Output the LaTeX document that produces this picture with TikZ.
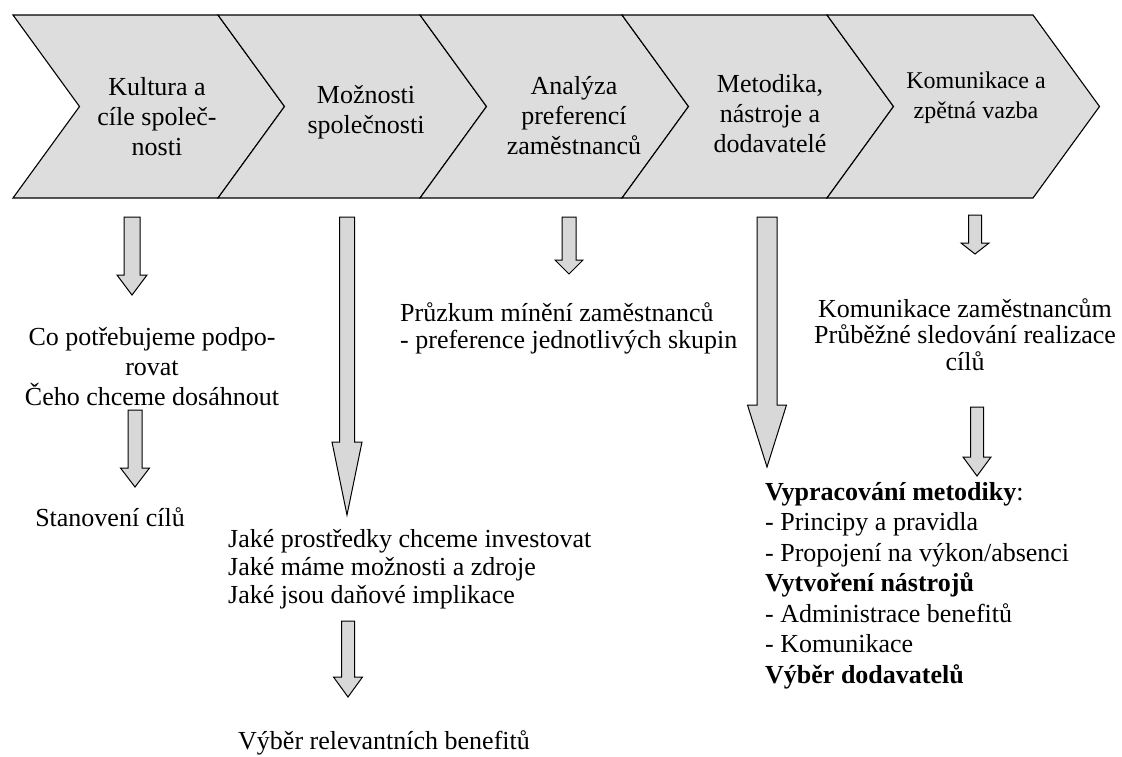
\documentclass[tikz,border=0pt]{standalone}
\usepackage{fontspec}
\setmainfont{Liberation Serif}
\definecolor{StepFill}{HTML}{DDDDDD}
\definecolor{ArrowFill}{HTML}{D8D8D8}
% chevron: left x, right x
\newcommand{\chevron}[2]{%
  \draw[chevron] (#1,15) -- (#2,15) -- (#2+66.5,106.5) -- (#2,198)
    -- (#1,198) -- (#1+66.5,106.5) -- cycle;}
% block arrow: x, top, neck, tip, half shaft, half head
\newcommand{\fatarrow}[6]{%
  \draw[fatarrow] (#1-#5,#2) -- (#1+#5,#2) -- (#1+#5,#3) -- (#1+#6,#3)
    -- (#1,#4) -- (#1-#6,#3) -- (#1-#5,#3) -- cycle;}

\begin{document}
\begin{tikzpicture}[x=1pt,y=-1pt]
  \tikzstyle{chevron}=[draw,fill=StepFill,line width=1.1pt,line join=miter]
  \tikzstyle{fatarrow}=[draw,fill=ArrowFill,line width=1pt,line join=miter]
  \tikzstyle{steptext}=[inner sep=0pt,align=center,
    font=\fontsize{26}{30}\selectfont]
  \tikzstyle{notetext}=[inner sep=0pt,font=\fontsize{26}{30}\selectfont]
  \useasboundingbox (0,0) rectangle (1122,756);

  \chevron{13}{218}
  \chevron{218}{420}
  \chevron{420}{622}
  \chevron{622}{827}
  \chevron{827}{1033}

  % base anchor = baseline of the last line
  \node[steptext,anchor=base] (s1) at (157,155) {Kultura a\\cíle společ-\\nosti};
  \node[steptext,anchor=base] (s2) at (366,133) {Možnosti\\společnosti};
  \node[steptext,anchor=base] (s3) at (574,154) {Analýza\\preferencí\\zaměstnanců};
  \node[steptext,anchor=base] (s4) at (770,152) {Metodika,\\nástroje a\\dodavatelé};
  \node[steptext,anchor=base,font=\fontsize{24}{30}\selectfont] (s5) at (976,118)
    {Komunikace a\\zpětná vazba};

  \fatarrow{132}{217}{275}{295}{8}{15}
  \fatarrow{135}{410}{468}{487}{7}{14.5}
  \fatarrow{347}{217}{442}{515}{7.5}{15}
  \fatarrow{348}{621}{677}{697}{6.5}{14.5}
  \fatarrow{569}{217}{260}{274}{7}{14}
  \fatarrow{767}{217}{405}{467}{10}{19.5}
  \fatarrow{975}{215}{243}{254}{6.5}{14}
  \fatarrow{977}{407}{457}{476}{6.5}{14}

  \node[notetext,align=center,anchor=base] (n1) at (152,405)
    {Co potřebujeme podpo-\\rovat\\Čeho chceme dosáhnout};
  \node[notetext,anchor=base] (n1b) at (110,526) {Stanovení cílů};
  \node[notetext,align=left,anchor=base west,font=\fontsize{26}{28}\selectfont]
    (n2) at (228,603)
    {Jaké prostředky chceme investovat\\Jaké máme možnosti a zdroje\\Jaké jsou daňové implikace};
  \node[notetext,anchor=base west] (n2b) at (238,749) {Výběr relevantních benefitů};
  \node[notetext,align=left,anchor=base west,font=\fontsize{26}{27}\selectfont]
    (n3) at (400,348)
    {Průzkum mínění zaměstnanců\\- preference jednotlivých skupin};
  \node[notetext,align=left,anchor=base west,font=\fontsize{26}{30.5}\selectfont]
    (n4) at (765,683)
    {\textbf{Vypracování metodiky}:\\- Principy a pravidla\\- Propojení na výkon/absenci\\
     \textbf{Vytvoření nástrojů}\\- Administrace benefitů\\- Komunikace\\\textbf{Výběr dodavatelů}};
  \node[notetext,align=center,anchor=base,font=\fontsize{26}{26.5}\selectfont]
    (n5) at (965,370)
    {Komunikace zaměstnancům\\Průběžné sledování realizace\\cílů};
\end{tikzpicture}
\end{document}
